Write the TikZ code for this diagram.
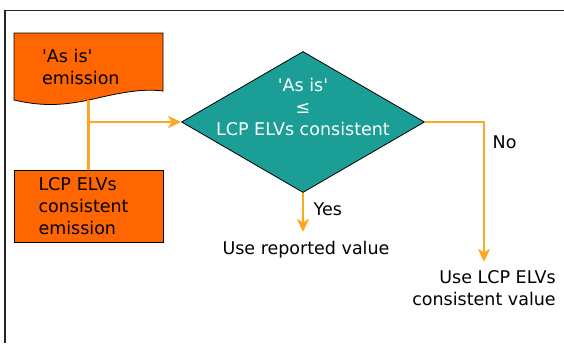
\documentclass[tikz,border=0pt]{standalone}
\usepackage{fontspec}
\setmainfont{DejaVu Sans}
\usepackage{xcolor}
\usepackage{tikz}
\usetikzlibrary{arrows.meta,shapes.geometric,calc}
\definecolor{emis}{RGB}{255,102,0}
\definecolor{check}{RGB}{26,158,150}
\definecolor{flowline}{RGB}{255,167,34}

\begin{document}
\begin{tikzpicture}[x=1pt, y=-1pt, font=\fontsize{17.5}{22}\selectfont,
    box/.style={draw=black, line width=0.8pt, fill=emis, minimum width=149pt, align=left},
    decision/.style={diamond, draw=black, line width=0.8pt, fill=check, minimum width=243pt, minimum height=141pt, inner sep=0pt},
    flow/.style={draw=flowline, line width=2.8pt},
    tip/.style={-{Stealth[length=13pt, width=12pt, inset=3.5pt]}}]
  \useasboundingbox (0,0) rectangle (564,343);
  % frame
  \draw[line width=1.3pt, black!85] (5,343) -- (5,10.5) -- (564,10.5);
  % document shape behind the 'As is' node
  \filldraw[fill=emis, draw=black, line width=0.8pt]
    (14,33) -- (163,33) -- (163,91)
    .. controls (140,88) and (115,94) .. (89,100)
    .. controls (60,106) and (40,106) .. (14,100) -- cycle;
  \node[minimum width=149pt, minimum height=67pt, text width=104pt, align=left, inner sep=0pt]
    (asis) at (94,66.5) {\textquotesingle As is\textquotesingle\\emission};
  \node[box, minimum height=72pt, text width=100pt, inner xsep=24pt, inner ysep=0pt]
    (lcp) at (88.5,206) {LCP ELVs\\consistent\\emission};
  \node[decision] (test) at (303,122) {};
  \node[text=white, align=center, inner sep=0pt] (testtxt) at (303,106.5)
    {\textquotesingle As is\textquotesingle\\≤\\LCP ELVs consistent};
  \node[align=center] (rep) at (306,250) {Use reported value};
  \node[align=right] (elv) at (484,288) {Use LCP ELVs\\consistent value};
  \coordinate (join) at (lcp.north |- test.west);
  % connectors
  \draw[flow] (lcp.north |- asis.south) -- (lcp.north);
  \draw[flow, tip] (join) -- (test.west);
  \draw[flow, tip, shorten >=6pt] (test.south) -- (test.south |- rep.north)
    node[pos=0.37, right, xshift=6pt, text=black] {Yes};
  \draw[flow, tip, shorten >=5pt] (test.east) -| (elv.north)
    node[pos=0.57, right, xshift=4pt, text=black] {No};
\end{tikzpicture}
\end{document}
